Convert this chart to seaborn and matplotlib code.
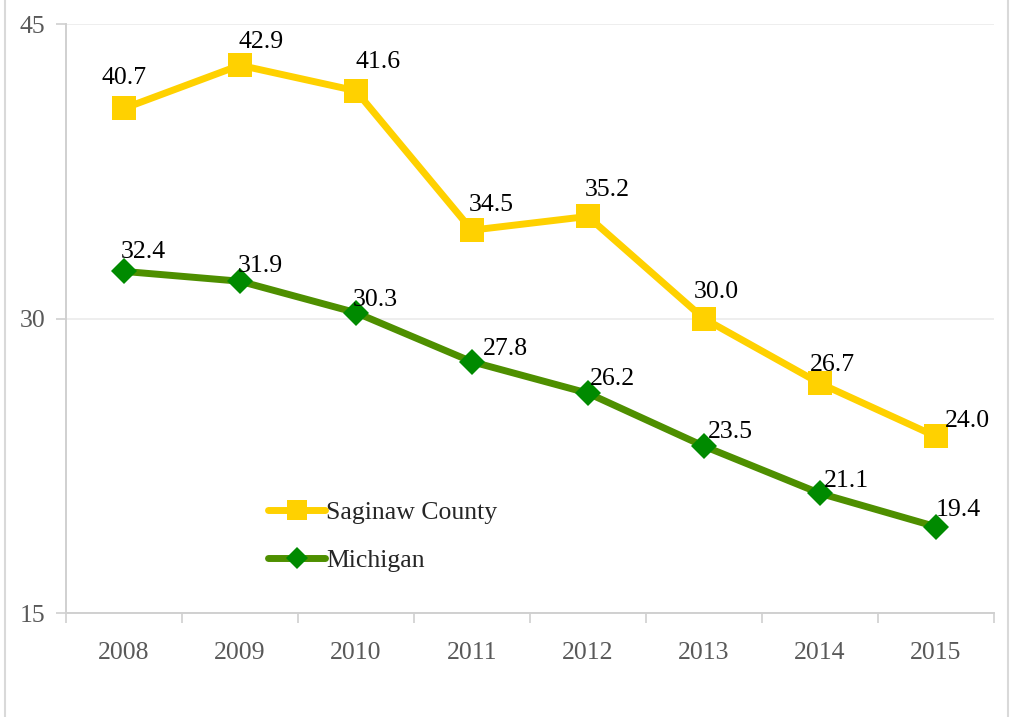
import pandas as pd
import matplotlib.pyplot as plt
import matplotlib.patches as mpatches
from matplotlib.ticker import FixedLocator
import seaborn as sns

years = ["2008", "2009", "2010", "2011", "2012", "2013", "2014", "2015"]
saginaw = [40.7, 42.9, 41.6, 34.5, 35.2, 30.0, 26.7, 24.0]
michigan = [32.4, 31.9, 30.3, 27.8, 26.2, 23.5, 21.1, 19.4]

# label offsets in points (dx, dy) relative to the marker
sag_off = [(0, 22), (15, 17), (16, 21), (14, 18), (14, 19), (9, 19), (9, 13), (23, 11)]
mich_off = [(14, 14), (15, 11), (14, 9), (24, 9), (18, 10), (19, 10), (19, 9), (16, 12)]

sns.set_theme(style="white")
plt.rcParams["font.family"] = ["Liberation Serif", "DejaVu Serif"]

df = pd.DataFrame({
    "pos": list(range(len(years))) * 2,
    "value": saginaw + michigan,
    "area": ["Saginaw County"] * len(years) + ["Michigan"] * len(years),
})

fig = plt.figure(figsize=(10.14, 7.17), dpi=100)
ax = fig.add_axes([0.065, 0.145, 0.915, 0.8215])

sag_df = df[df["area"] == "Saginaw County"]
mich_df = df[df["area"] == "Michigan"]

sns.lineplot(data=sag_df, x="pos", y="value", ax=ax, color="#FFD100", linewidth=5,
             marker="s", markersize=17, markeredgewidth=0, markerfacecolor="#FFD100",
             label="Saginaw County")
sns.lineplot(data=mich_df, x="pos", y="value", ax=ax, color="#4E8F00", linewidth=5,
             marker="D", markersize=13, markeredgewidth=0, markerfacecolor="#008A00",
             label="Michigan")

for i, v in enumerate(saginaw):
    ax.annotate(f"{v:.1f}", (i, v), xytext=sag_off[i], textcoords="offset points",
                ha="center", va="center", fontsize=18.5, color="black")
for i, v in enumerate(michigan):
    ax.annotate(f"{v:.1f}", (i, v), xytext=mich_off[i], textcoords="offset points",
                ha="center", va="center", fontsize=18.5, color="black")

ax.set_xlim(-0.5, len(years) - 0.5)
ax.set_ylim(15, 45)
ax.set_yticks([15, 30, 45])
ax.set_xticks(range(len(years)))
ax.set_xticklabels(years)
ax.xaxis.set_minor_locator(FixedLocator([i - 0.5 for i in range(len(years) + 1)]))
ax.tick_params(axis="x", which="major", length=0, pad=21, labelsize=18.5, labelcolor="#595959")
ax.tick_params(axis="x", which="minor", length=7, width=1.2, color="#D0D0D0", direction="out", bottom=True)
ax.tick_params(axis="y", length=7, width=1.2, color="#D0D0D0", pad=8, labelsize=18.5,
               labelcolor="#595959", left=True)

ax.yaxis.grid(True, color="#EBEBEB", linewidth=1.2)
ax.xaxis.grid(False)
for s in ["top", "right"]:
    ax.spines[s].set_visible(False)
for s in ["left", "bottom"]:
    ax.spines[s].set_color("#D0D0D0")
    ax.spines[s].set_linewidth(1.4)

ax.set_xlabel("")
ax.set_ylabel("")

leg = ax.legend(loc="center left", bbox_to_anchor=(0.207, 0.13), frameon=False,
                fontsize=18.5, handlelength=2.2, handletextpad=0.05, labelspacing=1.0,
                borderaxespad=0, markerscale=0.85)

# outer frame lines at left and right edges
fig.add_artist(mpatches.Rectangle((5 / 1014, -0.1), 1003 / 1014, 1.2, transform=fig.transFigure,
                                  fill=False, edgecolor="#D9D9D9", linewidth=1.5))

fig.savefig("out.png", dpi=100)
